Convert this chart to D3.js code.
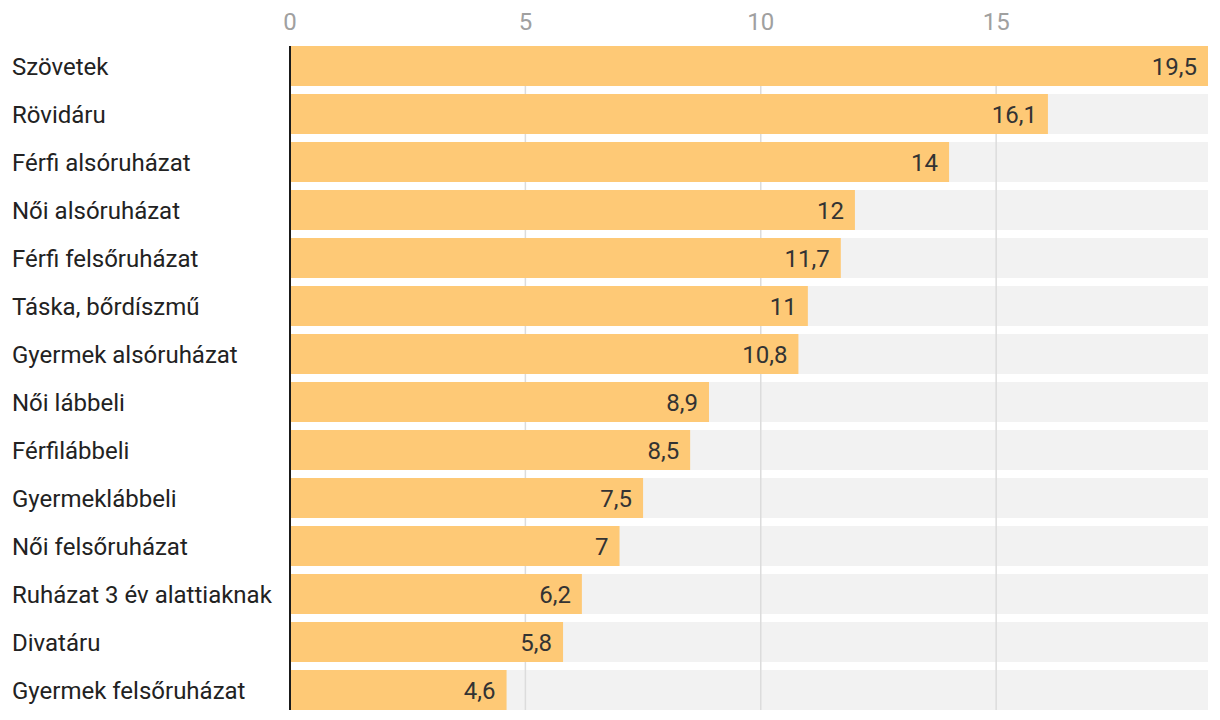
<!DOCTYPE html>
<html><head><meta charset="utf-8">
<script src="https://cdn.jsdelivr.net/npm/d3@7"></script>
<style>body{margin:0;background:#fff;font-family:Roboto,sans-serif;}</style>
</head><body><svg id="c" width="1220" height="720"></svg>
<script>
const categories = ["Szövetek","Rövidáru","Férfi alsóruházat","Női alsóruházat","Férfi felsőruházat","Táska, bőrdíszmű","Gyermek alsóruházat","Női lábbeli","Férfilábbeli","Gyermeklábbeli","Női felsőruházat","Ruházat 3 év alattiaknak","Divatáru","Gyermek felsőruházat"];
const values = [19.5,16.1,14,12,11.7,11,10.8,8.9,8.5,7.5,7,6.2,5.8,4.6];
const ticks = [0,5,10,15];

const svg = d3.select("#c");
const x = d3.scaleLinear().domain([0,19.5]).range([290,1208]);
const y = d3.scaleBand().domain(categories).range([42,714]).paddingInner(8/48).paddingOuter(4/48);
const fmt = v => String(v).replace(".", ",");

svg.append("g").selectAll("rect").data(categories).join("rect")
  .attr("x", x(0)).attr("y", d=>y(d)).attr("width", x(19.5)-x(0)).attr("height", y.bandwidth())
  .attr("fill","#f2f2f2");
svg.append("g").selectAll("line").data(ticks.filter(t=>t>0)).join("line")
  .attr("x1", d=>x(d)).attr("x2", d=>x(d)).attr("y1", y.range()[0]+4).attr("y2", y.range()[1]-4)
  .attr("stroke","#dcdcdc").attr("stroke-width",1.5);
svg.append("g").selectAll("text").data(ticks).join("text")
  .attr("x", d=>x(d)).attr("y", 30).attr("text-anchor","middle")
  .attr("font-size",24).attr("fill","#a0a0a0").text(d=>d);
svg.append("g").selectAll("rect").data(values).join("rect")
  .attr("x", x(0)).attr("y", (d,i)=>y(categories[i])).attr("width", d=>x(d)-x(0)).attr("height", y.bandwidth())
  .attr("fill","#fec976");
svg.append("g").selectAll("text").data(values).join("text")
  .attr("x", d=>x(d)-11).attr("y", (d,i)=>y(categories[i])+y.bandwidth()/2+8.5)
  .attr("text-anchor","end").attr("font-size",24).attr("fill","#333").text(d=>fmt(d));
svg.append("g").selectAll("text").data(categories).join("text")
  .attr("x", 12).attr("y", d=>y(d)+y.bandwidth()/2+8.5)
  .attr("font-size",24).attr("fill","#222").text(d=>d);
svg.append("line").attr("x1", x(0)).attr("x2", x(0)).attr("y1", y.range()[0]+4).attr("y2", y.range()[1]-4)
  .attr("stroke","#1a1a1a").attr("stroke-width",2);
</script></body></html>
